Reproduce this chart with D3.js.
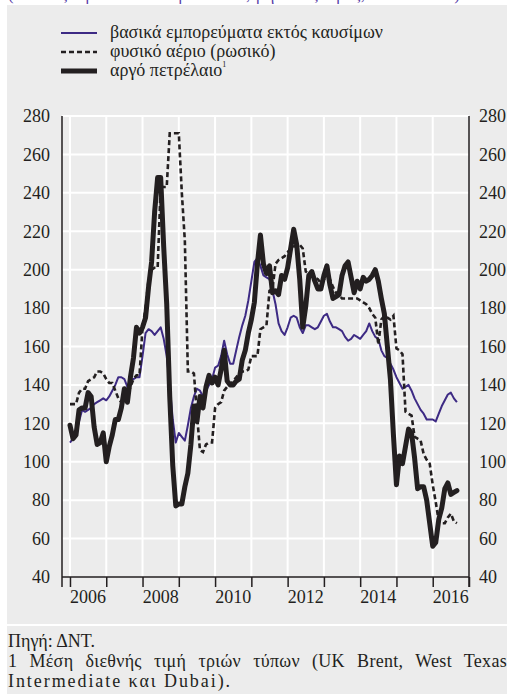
<!DOCTYPE html>
<html lang="el">
<head>
<meta charset="utf-8">
<title>Τιμές βασικών εμπορευμάτων</title>
<script src="https://cdn.jsdelivr.net/npm/d3@7"></script>
<style>
  body { margin: 0; background: #fff; }
  svg text { font-family: "Liberation Serif", "Times New Roman", Times, serif; fill: #231f20; }
</style>
</head>
<body>
<div id="chart"></div>
<script>
// monthly values, Jan 2006 onwards (index)
const startYear = 2006;
const nonFuel = [
  110,112,115,121,127,126,127,128,130,131,132,133,
  132,134,137,140,144,144,143,139,143,143,144,144,
  155,167,169,168,166,168,170,164,155,140,122,110,
  115,113,111,119,128,134,138,137,134,137,140,143,
  149,150,155,163,156,151,151,158,165,171,176,184,
  194,204,206,202,197,196,195,189,182,172,168,166,
  170,175,176,175,170,167,171,171,170,169,170,173,
  176,177,173,170,170,169,168,165,163,164,166,165,
  164,166,168,172,168,165,164,158,155,154,151,148,
  144,141,138,139,140,137,133,130,127,125,122,122,
  122,121,125,129,132,135,136,133,131
];
const gas = [
  130,130,130,136,138,138,142,143,144,147,147,146,
  143,141,141,137,133,131,131,134,139,143,145,145,
  170,180,195,200,201,201,243,243,243,271,271,271,
  271,240,215,147,147,146,125,106,105,109,110,110,
  128,130,131,137,139,140,142,144,146,147,147,148,
  155,155,155,169,170,171,189,190,203,205,206,207,
  209,211,212,213,213,211,199,198,197,196,195,193,
  195,196,195,191,188,187,185,185,185,185,185,185,
  184,183,182,180,177,175,161,174,176,175,174,176,
  159,158,156,126,125,124,113,112,111,104,101,99,
  88,79,69,68,68,71,73,69,68
];
const crude = [
  119,112,114,127,128,128,136,134,118,109,110,115,
  100,108,114,122,122,128,138,131,144,154,170,167,
  170,175,191,204,230,248,248,212,182,134,98,77,
  78,78,87,94,109,129,121,134,128,139,145,141,
  144,140,148,158,142,140,140,142,143,153,158,167,
  174,183,203,218,203,198,202,188,189,187,197,195,
  201,211,221,213,195,170,181,197,199,194,190,190,
  197,202,192,185,186,187,197,202,204,196,188,194,
  190,196,194,195,197,200,194,185,177,160,143,114,
  88,103,99,108,117,115,102,86,87,87,80,68,
  56,58,70,76,86,89,83,84,85
];
const yTicks = [40, 60, 80, 100, 120, 140, 160, 180, 200, 220, 240, 260, 280];
const yearTicks = [2006, 2007, 2008, 2009, 2010, 2011, 2012, 2013, 2014, 2015, 2016, 2017];
const yearLabels = [2006, 2008, 2010, 2012, 2014, 2016];
const legendNames = ["βασικά εμπορεύματα εκτός καυσίμων", "φυσικό αέριο (ρωσικό)", "αργό πετρέλαιο"];
const titleText = "(δείκτες τιμών σε δολάρια ΗΠΑ, μηνιαίες τιμές, 2005 = 100)";
const notes = ["Πηγή: ΔΝΤ.",
  "1 Μέση διεθνής τιμή τριών τύπων (UK Brent, West Texas",
  "Intermediate και Dubai)."];

const w = 507, h = 697;
const pL = 62, pR = 469, pT = 116, pB = 577;

const svg = d3.select("#chart").append("svg")
  .attr("width", w).attr("height", h);

// panel
svg.append("rect").attr("x", 7).attr("y", 5).attr("width", w - 7).attr("height", 689)
  .attr("fill", "#ececec");
svg.append("text").attr("x", 8).attr("y", 0).attr("font-size", 17)
  .attr("textLength", 452).attr("lengthAdjust", "spacing")
  .style("fill", "#5a3fa8").text(titleText);

const x = d3.scaleLinear().domain([2005.78, 2017]).range([pL, pR]);
const y = d3.scaleLinear().domain([40, 280]).range([pB, pT]);
const t = (d, i) => x(startYear + i / 12);

// grid
svg.append("g").selectAll("line").data(yTicks.slice(1)).enter().append("line")
  .attr("x1", pL).attr("x2", pR)
  .attr("y1", d => y(d)).attr("y2", d => y(d))
  .attr("stroke", "#fff").attr("stroke-width", 2);
svg.append("g").selectAll("line").data(yearTicks.slice(0, -1)).enter().append("line")
  .attr("x1", d => x(d)).attr("x2", d => x(d))
  .attr("y1", pT).attr("y2", pB)
  .attr("stroke", "#fff").attr("stroke-width", 2);

// axes
const yLeft = d3.axisLeft(y).tickValues(yTicks).tickSize(0).tickPadding(12);
const yRight = d3.axisRight(y).tickValues(yTicks).tickSize(0).tickPadding(10);
const gl = svg.append("g").attr("transform", `translate(${pL},0)`).call(yLeft);
const gr = svg.append("g").attr("transform", `translate(${pR},0)`).call(yRight);
[gl, gr].forEach(g => {
  g.select(".domain").remove();
  g.selectAll("text").attr("font-size", 18);
});
svg.append("line").attr("x1", pL).attr("x2", pL).attr("y1", pT).attr("y2", pB + 10)
  .attr("stroke", "#231f20").attr("stroke-width", 1.5);
svg.append("line").attr("x1", pR).attr("x2", pR).attr("y1", pT).attr("y2", pB + 10)
  .attr("stroke", "#231f20").attr("stroke-width", 1.5);

const xAxis = d3.axisBottom(x).tickValues(yearTicks).tickSize(10).tickFormat("").tickSizeOuter(0);
const gx = svg.append("g").attr("transform", `translate(0,${pB})`).call(xAxis);
gx.select(".domain").attr("stroke", "#231f20").attr("stroke-width", 1.5)
  .attr("d", `M${pL},0H${pR}`);
gx.selectAll(".tick line").attr("stroke", "#231f20").attr("stroke-width", 1.5);

svg.append("g").selectAll("text").data(yearLabels).enter().append("text")
  .attr("x", d => x(d + 0.5)).attr("y", 603)
  .attr("text-anchor", "middle").attr("font-size", 18)
  .text(d => d);

// series
const line = d3.line().x((d, i) => t(d, i)).y(d => y(d));
svg.append("path").datum(nonFuel).attr("d", line)
  .attr("fill", "none").attr("stroke", "#3d2a84").attr("stroke-width", 2)
  .attr("stroke-linejoin", "round");
svg.append("path").datum(gas).attr("d", line)
  .attr("fill", "none").attr("stroke", "#231f20").attr("stroke-width", 2.6)
  .attr("stroke-dasharray", "5,3");
svg.append("path").datum(crude).attr("d", line)
  .attr("fill", "none").attr("stroke", "#231f20").attr("stroke-width", 5)
  .attr("stroke-linejoin", "round").attr("stroke-linecap", "round");

// legend
const legendStyles = [
  { stroke: "#3d2a84", width: 2, dash: null },
  { stroke: "#231f20", width: 2.6, dash: "5,3" },
  { stroke: "#231f20", width: 5, dash: null }
];
const lg = svg.append("g");
legendNames.forEach((name, i) => {
  const ly = 33 + i * 19;
  lg.append("line").attr("x1", 61).attr("x2", 97).attr("y1", ly).attr("y2", ly)
    .attr("stroke", legendStyles[i].stroke).attr("stroke-width", legendStyles[i].width)
    .attr("stroke-dasharray", legendStyles[i].dash);
  const tx = lg.append("text").attr("x", 110).attr("y", ly + 5).attr("font-size", 18).text(name);
  if (i === 2) tx.append("tspan").attr("font-size", 8).attr("dy", -9).text("1");
});

// notes
svg.append("line").attr("x1", 7).attr("x2", w).attr("y1", 625).attr("y2", 625)
  .attr("stroke", "#fff").attr("stroke-width", 2);
svg.append("text").attr("x", 8).attr("y", 647).attr("font-size", 18).text(notes[0]);
const n2 = svg.append("text").attr("x", 8).attr("y", 667).attr("font-size", 18)
  .attr("letter-spacing", 0.3).text(notes[1]);
const len2 = n2.node().getComputedTextLength();
n2.attr("word-spacing", Math.max(0, (499 - len2) / (notes[1].split(" ").length - 1)));
const n3 = svg.append("text").attr("x", 8).attr("y", 687).attr("font-size", 18).text(notes[2]);
const len3 = n3.node().getComputedTextLength();
n3.attr("letter-spacing", Math.max(0, (224 - len3) / notes[2].length));
</script>
</body>
</html>
